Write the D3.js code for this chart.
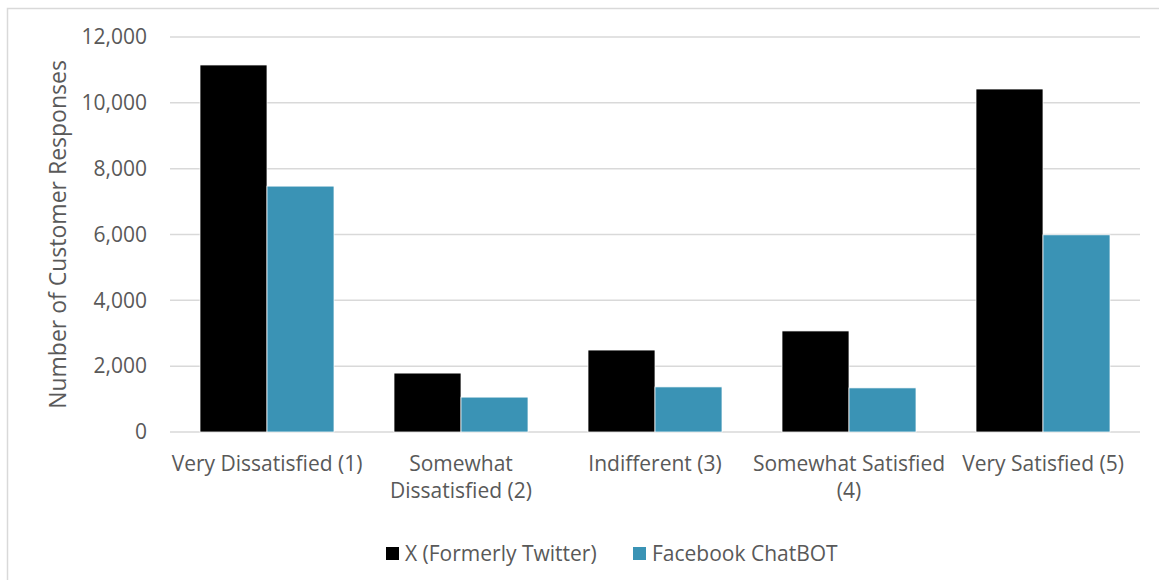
<!DOCTYPE html>
<html>
<head>
<meta charset="utf-8">
<script src="https://cdn.jsdelivr.net/npm/d3@7"></script>
<style>
  body { margin: 0; background: #fff; }
  text { font-family: "Open Sans", sans-serif; fill: #595959; }
</style>
</head>
<body>
<div id="chart"></div>
<script>
const categories = [
  'Very Dissatisfied (1)',
  'Somewhat Dissatisfied (2)',
  'Indifferent (3)',
  'Somewhat Satisfied (4)',
  'Very Satisfied (5)'
];
// how Excel broke the axis labels
const categoryLines = [
  ['Very Dissatisfied (1)'],
  ['Somewhat', 'Dissatisfied (2)'],
  ['Indifferent (3)'],
  ['Somewhat Satisfied', '(4)'],
  ['Very Satisfied (5)']
];
const seriesNames = ['X (Formerly Twitter)', 'Facebook ChatBOT'];
const twitter = [11150, 1790, 2490, 3070, 10420];
const chatbot = [7470, 1060, 1370, 1340, 5990];
const yTicks = [0, 2000, 4000, 6000, 8000, 10000, 12000];

const width = 1159,
  height = 580;
const margin = { top: 37, right: 19, bottom: 148, left: 170 };
const colors = ['#000000', '#3a93b5'];
const fontSize = 21;

const svg = d3.select('#chart').append('svg')
    .attr('width', width)
    .attr('height', height);

// chart border
svg.append('rect')
    .attr('x', 7.5)
    .attr('y', 8.5)
    .attr('width', width)
    .attr('height', height)
    .attr('fill', 'none')
    .attr('stroke', '#d9d9d9')
    .attr('stroke-width', 1.5);

const x0 = d3.scaleBand()
    .domain(categories)
    .range([margin.left, width - margin.right])
    .paddingInner(60 / 194)
    .paddingOuter(30 / 194);

const x1 = d3.scaleBand()
    .domain(seriesNames)
    .range([0, x0.bandwidth()]);

const y = d3.scaleLinear()
    .domain([0, 12000])
    .range([height - margin.bottom, margin.top]);

// gridlines
svg.append('g')
  .selectAll('line')
    .data(yTicks)
  .enter().append('line')
    .attr('x1', margin.left)
    .attr('x2', width - margin.right)
    .attr('y1', (d) => y(d))
    .attr('y2', (d) => y(d))
    .attr('stroke', '#d9d9d9')
    .attr('stroke-width', 1.5);

// y axis labels
const yAxis = d3.axisLeft(y)
    .tickValues(yTicks)
    .tickFormat(d3.format(','))
    .tickSize(0)
    .tickPadding(23);

svg.append('g')
    .attr('transform', `translate(${margin.left},0)`)
    .call(yAxis)
    .call((g) => g.select('.domain').remove())
    .call((g) => g.selectAll('text')
        .style('font-family', '"Open Sans", sans-serif')
        .style('font-size', `${fontSize}px`)
        .attr('fill', '#595959'));

const rows = categories.map((c, i) => ({ c, values: [twitter[i], chatbot[i]] }));

const group = svg.append('g')
  .selectAll('g')
    .data(rows)
  .enter().append('g')
    .attr('transform', (d) => `translate(${x0(d.c)},0)`);

group.selectAll('rect')
    .data((d) => d.values.map((v, k) => ({ k, v })))
  .enter().append('rect')
    .attr('x', (d) => x1(seriesNames[d.k]))
    .attr('y', (d) => y(d.v))
    .attr('width', x1.bandwidth())
    .attr('height', (d) => y(0) - y(d.v))
    .attr('fill', (d) => colors[d.k])
    .attr('stroke', '#ffffff')
    .attr('stroke-width', 0.75);

// x axis labels
const xLabels = svg.append('g')
  .selectAll('text')
    .data(categories)
  .enter().append('text')
    .attr('x', (d) => x0(d) + x0.bandwidth() / 2)
    .attr('y', y(0) + 39)
    .attr('text-anchor', 'middle')
    .style('font-size', `${fontSize}px`);

xLabels.selectAll('tspan')
    .data((d, i) => categoryLines[i])
  .enter().append('tspan')
    .attr('x', function () { return this.parentNode.getAttribute('x'); })
    .attr('dy', (d, i) => (i === 0 ? 0 : 27))
    .text((d) => d);

// y axis title
svg.append('text')
    .attr('transform', `translate(66,${(y(0) + y(12000)) / 2}) rotate(-90)`)
    .attr('text-anchor', 'middle')
    .style('font-size', `${fontSize + 2}px`)
    .text('Number of Customer Responses');

// legend
const legendX = [386, 633];
const legend = svg.append('g')
  .selectAll('g')
    .data(seriesNames)
  .enter().append('g')
    .attr('transform', (d, i) => `translate(${legendX[i]},547)`);

legend.append('rect')
    .attr('width', 13)
    .attr('height', 13)
    .attr('fill', (d, i) => colors[i]);

legend.append('text')
    .attr('x', 19)
    .attr('y', 14)
    .style('font-size', `${fontSize}px`)
    .text((d) => d);
</script>
</body>
</html>
